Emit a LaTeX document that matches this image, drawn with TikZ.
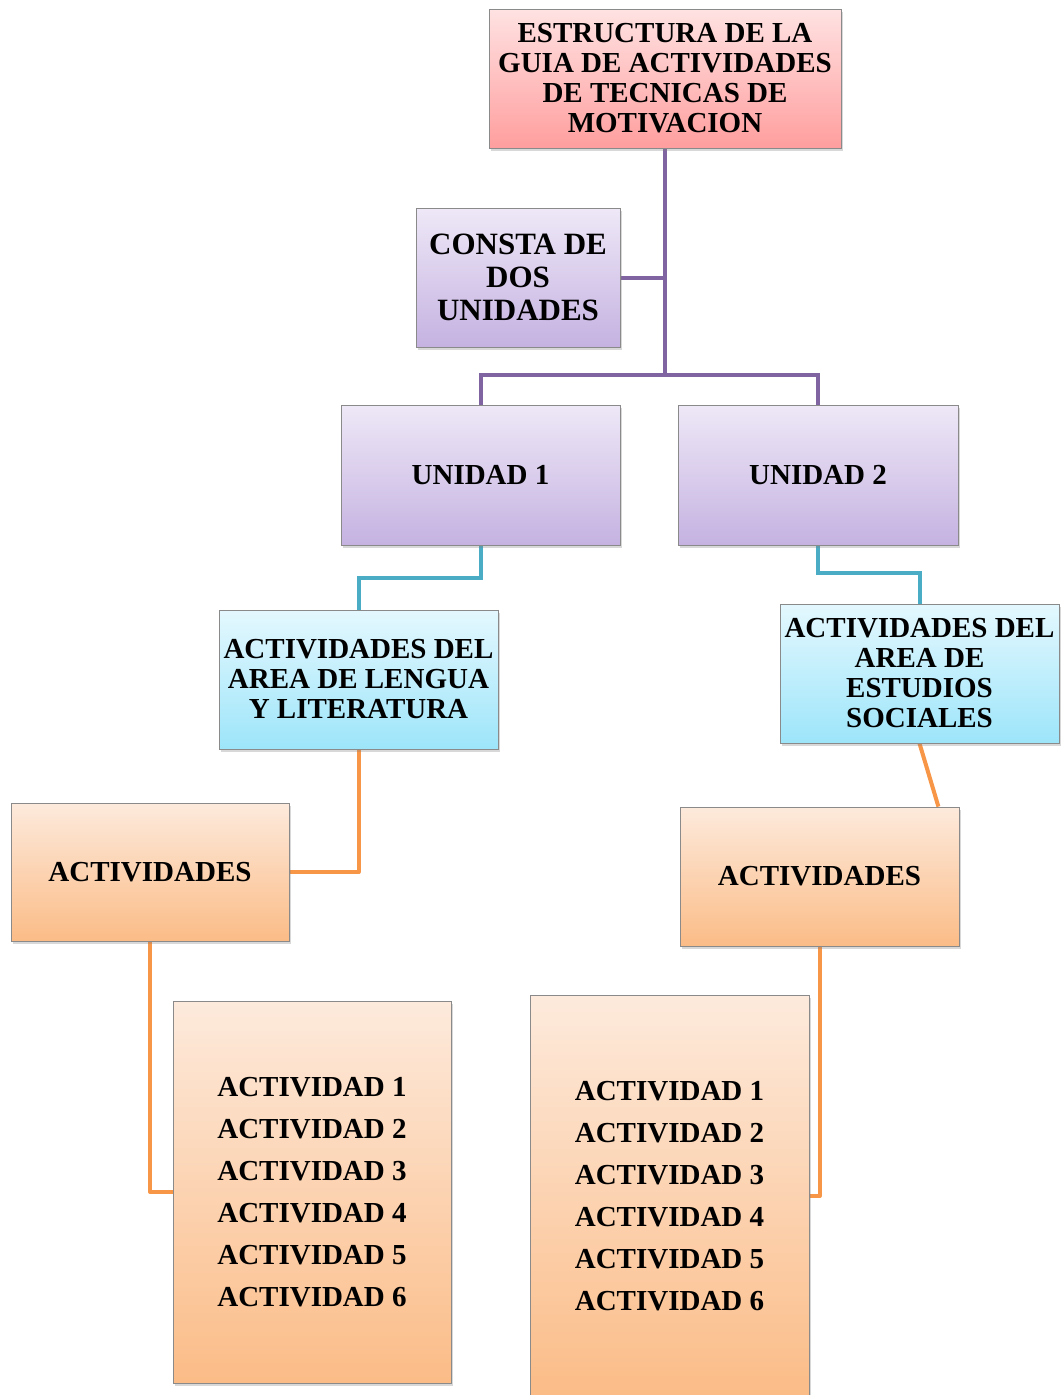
\documentclass[tikz,border=0pt]{standalone}
\usepackage{fontspec}
\setmainfont{Liberation Serif}
\usetikzlibrary{shadows,backgrounds}
\definecolor{purpline}{HTML}{8064A2}
\definecolor{blueline}{HTML}{4BACC6}
\definecolor{orangeline}{HTML}{F79646}
\definecolor{boxgray}{HTML}{8A8A8A}
\definecolor{pinktop}{HTML}{FFE2E2}
\definecolor{pinkbot}{HTML}{FF9E9E}
\definecolor{purptop}{HTML}{EEE8F7}
\definecolor{purpbot}{HTML}{C5B2E1}
\definecolor{cyantop}{HTML}{E4F8FE}
\definecolor{cyanbot}{HTML}{9DE5FA}
\definecolor{orangetop}{HTML}{FDEADC}
\definecolor{orangebot}{HTML}{FBBC87}
\begin{document}
\begin{tikzpicture}[x=1pt,y=-1pt,
  box/.style={draw=boxgray, line width=0.8pt, inner sep=0pt, align=center,
    font=\bfseries\fontsize{29}{30}\selectfont,
    drop shadow={shadow xshift=2pt,shadow yshift=-3pt,opacity=0.3}},
  pinkbox/.style={box, top color=pinktop, bottom color=pinkbot},
  purpbox/.style={box, top color=purptop, bottom color=purpbot},
  cyanbox/.style={box, top color=cyantop, bottom color=cyanbot},
  orbox/.style={box, top color=orangetop, bottom color=orangebot},
  listbox/.style={orbox, align=left, font=\bfseries\fontsize{29}{42}\selectfont},
  pline/.style={draw=purpline, line width=4pt},
  bline/.style={draw=blueline, line width=4pt},
  oline/.style={draw=orangeline, line width=4pt, line join=round},
]
\useasboundingbox (0,0) rectangle (1061,1395);

\node[pinkbox, minimum width=352pt, minimum height=139pt] (top) at (665,78.5)
  {ESTRUCTURA DE LA\\GUIA DE ACTIVIDADES\\DE TECNICAS DE\\MOTIVACION};
\node[purpbox, minimum width=204pt, minimum height=139pt,
  font=\bfseries\fontsize{31}{33}\selectfont] (consta) at (518,277.5)
  {CONSTA DE\\DOS\\UNIDADES};
\node[purpbox, minimum width=279pt, minimum height=140pt] (u1) at (480.5,475) {UNIDAD 1};
\node[purpbox, minimum width=280pt, minimum height=140pt] (u2) at (818,475) {UNIDAD 2};
\node[cyanbox, minimum width=279pt, minimum height=139pt] (leng) at (358.5,679.5)
  {ACTIVIDADES DEL\\AREA DE LENGUA\\Y LITERATURA};
\node[cyanbox, minimum width=279pt, minimum height=139pt] (soc) at (919.5,673.5)
  {ACTIVIDADES DEL\\AREA DE\\ESTUDIOS\\SOCIALES};
\node[orbox, minimum width=278pt, minimum height=138pt] (act1) at (150,872) {ACTIVIDADES};
\node[orbox, minimum width=279pt, minimum height=139pt] (act2) at (819.5,876.5) {ACTIVIDADES};
\node[listbox, minimum width=278pt, minimum height=382pt] (list1) at (312,1192)
  {ACTIVIDAD 1\\ACTIVIDAD 2\\ACTIVIDAD 3\\ACTIVIDAD 4\\ACTIVIDAD 5\\ACTIVIDAD 6};
\node[listbox, minimum width=279pt, minimum height=402pt] (list2) at (669.5,1196)
  {ACTIVIDAD 1\\ACTIVIDAD 2\\ACTIVIDAD 3\\ACTIVIDAD 4\\ACTIVIDAD 5\\ACTIVIDAD 6};

\coordinate (bus) at (665,375);

\begin{pgfonlayer}{background}
  \fill[white] (0,0) rectangle (1061,1395);
  \draw[pline] (top.south) -- (bus);
  \draw[pline] (consta.east) -- (consta.east -| top.south);
  \draw[pline] (u1.north) |- (bus) -| (u2.north);
  \draw[bline] (u1.south) -- ++(0,33) -| (leng.north);
  \draw[bline] (u2.south) -- ++(0,28) -| (soc.north);
  \draw[oline] (leng.south) |- (act1.east);
  \draw[oline] (soc.south) -- ([xshift=-21pt]act2.north east);
  \draw[oline] (act1.south) |- (list1.west);
  \draw[oline] (act2.south) |- (list2.east);
\end{pgfonlayer}
\end{tikzpicture}
\end{document}
